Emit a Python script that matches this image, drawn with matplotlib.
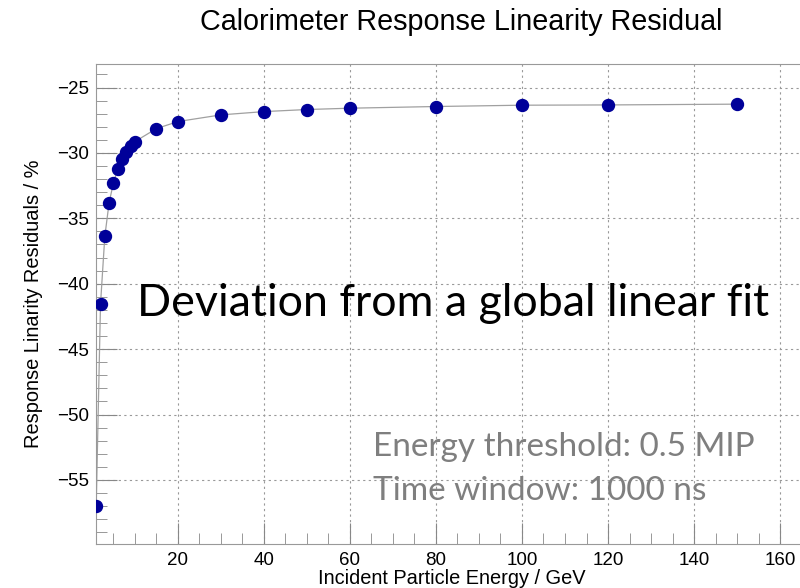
import matplotlib
matplotlib.use("Agg")
import matplotlib.pyplot as plt
from matplotlib.ticker import MultipleLocator

# incident energy (GeV) and linearity residual (%)
energy = [1, 2, 3, 4, 5, 6, 7, 8, 9, 10, 15, 20, 30, 40, 50, 60, 80, 100, 120, 150]
residual = [-56.96, -41.55, -36.38, -33.8, -32.29, -31.25, -30.49, -29.9, -29.46, -29.13,
            -28.14, -27.6, -27.09, -26.84, -26.68, -26.58, -26.45, -26.35, -26.33, -26.27]

plt.rcParams['font.family'] = ['Liberation Sans', 'DejaVu Sans']

fig = plt.figure(figsize=(8, 5.88), dpi=100)
ax = fig.add_axes([96 / 800, 44 / 588, 712 / 800, 480 / 588])

ax.plot(energy, residual, color='#a0a0a0', lw=0.9, zorder=2)
ax.plot(energy, residual, 'o', color='#000099', ms=8.6, mec='#000099', zorder=3)

ax.set_xlim(0.95, 166.5)
ax.set_ylim(-59.9, -23.2)
ax.xaxis.set_major_locator(MultipleLocator(20))
ax.xaxis.set_minor_locator(MultipleLocator(5))
ax.yaxis.set_major_locator(MultipleLocator(5))
ax.yaxis.set_minor_locator(MultipleLocator(1))
ax.tick_params(which='both', direction='in', color='#888888', labelsize=13.5)
ax.tick_params(which='major', length=15)
ax.tick_params(which='minor', length=8)
ax.tick_params(axis='x', pad=6)
ax.tick_params(axis='y', pad=5)
for s in ax.spines.values():
    s.set_color('#999999')
ax.grid(True, which='major', ls=(0, (2, 3)), color='#999999', lw=0.8)
ax.set_axisbelow(True)

ax.set_xlabel('Incident Particle Energy / GeV', fontsize=14.4, labelpad=0)
ax.set_ylabel('Response Linarity Residuals / %', fontsize=14.4, labelpad=10)
fig.text(0.576, 1 - 22 / 588, 'Calorimeter Response Linearity Residual', ha='center', va='center',
         fontsize=20.7)

fig.text(137 / 800, 1 - 316 / 588, 'Deviation from a global linear fit', fontsize=32.2,
         family='Lato', va='baseline', ha='left')
fig.text(373 / 800, 1 - 456 / 588, 'Energy threshold: 0.5 MIP', fontsize=24,
         family='Lato', color='#7f7f7f', va='baseline', ha='left')
fig.text(373 / 800, 1 - 500 / 588, 'Time window: 1000 ns', fontsize=24,
         family='Lato', color='#7f7f7f', va='baseline', ha='left')

fig.savefig('out.png', dpi=100)
